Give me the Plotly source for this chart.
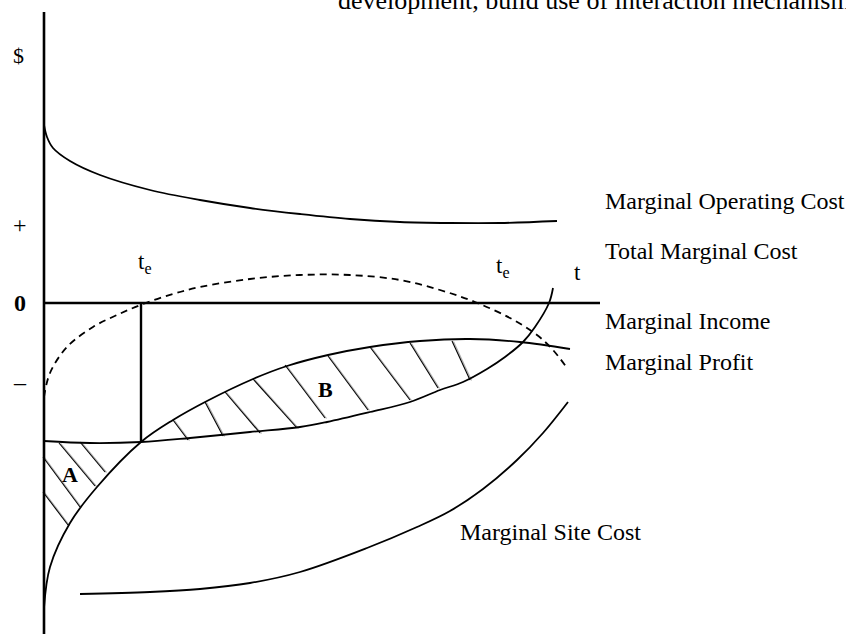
import plotly.graph_objects as go

W, H = 846, 634

# Conceptual curves (x, y in picture units, y downward)
op_cost_x = [44, 47, 53, 70, 100, 150, 200, 250, 300, 350, 400, 450, 500, 557]
op_cost_y = [125, 137, 148, 161, 175, 190, 200, 208, 214, 219, 222, 223, 223, 221]

total_cost_x = [44, 50, 67, 93, 117, 143, 173, 200, 250, 300, 350, 400, 440, 475, 510, 537, 553, 567]
total_cost_y = [397, 373, 347, 327, 315, 304, 294, 287, 279, 275, 275, 280, 290, 302, 318, 335, 350, 368]

# concave curve (rises steeply from bottom, flattens)
income_x = [44, 50, 70, 97, 141, 173, 207, 253, 287, 328, 370, 420, 470, 520, 570]
income_y = [608, 567, 523, 487, 442, 420, 401, 379, 366, 355, 347, 341, 339, 342, 349]

# convex curve (flat, then rising steeply)
mcost_x = [44, 90, 141, 190, 250, 300, 327, 370, 410, 440, 463, 487, 505, 523, 535, 549, 553]
mcost_y = [441, 443, 442, 438, 432, 427, 422, 412, 402, 390, 382, 369, 357, 342, 327, 303, 288]

site_x = [80, 150, 200, 250, 300, 367, 417, 450, 483, 517, 543, 568]
site_y = [594, 592, 589, 583, 572, 548, 527, 511, 489, 460, 433, 402]

# hatch segments (start / end)
hatch_x0 = [59, 80, 43, 43, 173, 205, 225, 253, 285, 328, 370, 410, 452]
hatch_y0 = [443, 442, 457, 492, 420, 402, 392, 379, 365, 356, 347, 343, 341]
hatch_x1 = [95, 105, 80, 68, 188, 223, 260, 297, 325, 368, 410, 438, 470]
hatch_y1 = [486, 472, 507, 525, 440, 436, 433, 428, 418, 410, 400, 388, 380]

axis_x = [44, 44]
axis_y = [12, 634]
zero_x = [44, 600]
zero_y = [303, 303]
te_line_x = [141, 141]
te_line_y = [303, 442]

fig = go.Figure()

def line(x, y, width=1.8, dash=None, color="black", shape="spline"):
    fig.add_trace(go.Scatter(x=x, y=y, mode="lines",
                             line=dict(color=color, width=width, dash=dash, shape=shape,
                                       smoothing=1.0 if shape == "spline" else None),
                             hoverinfo="skip", showlegend=False))

# hatches: grey shadow then black line
for x0, y0, x1, y1 in zip(hatch_x0, hatch_y0, hatch_x1, hatch_y1):
    line([x0 + 1.5, x1 + 1.5], [y0 + 0.5, y1 + 0.5], width=1.2, color="#b0b0b0", shape="linear")
    line([x0, x1], [y0, y1], width=1.1, color="black", shape="linear")

line(op_cost_x, op_cost_y)
line(total_cost_x, total_cost_y, width=1.8, dash="7px,5px")
line(income_x, income_y)
line(mcost_x, mcost_y)
line(site_x, site_y)
line(axis_x, axis_y, width=2.6, shape="linear")
line(zero_x, zero_y, width=2.6, shape="linear")
line(te_line_x, te_line_y, width=2.4, shape="linear")

font = dict(family="Liberation Serif, Times New Roman, serif", size=24, color="black")

def txt(x, y, s, xanchor="left", size=24, bold=False):
    f = dict(font)
    f["size"] = size
    fig.add_annotation(x=x, y=y, text=f"<b>{s}</b>" if bold else s, showarrow=False,
                       xanchor=xanchor, yanchor="middle", font=f, xref="x", yref="y")

txt(336, 0.5, "development, build use of interaction mechanisms", size=26)
txt(18, 55, "$", xanchor="center", size=22)
txt(20, 225, "+", xanchor="center", size=24)
txt(20, 303, "0", xanchor="center", size=24, bold=True)
txt(20, 382, "–", xanchor="center", size=24)
txt(145, 263, "t<sub>e</sub>", xanchor="center", size=23)
txt(503, 267, "t<sub>e</sub>", xanchor="center", size=23)
txt(577, 272, "t", xanchor="center", size=23)
txt(603, 201, "Marginal Operating Cost")
txt(603, 251, "Total Marginal Cost")
txt(603, 321, "Marginal Income")
txt(603, 362, "Marginal Profit")
txt(458, 532, "Marginal Site Cost")
txt(70, 474, "A", xanchor="center", size=22, bold=True)
txt(325, 389, "B", xanchor="center", size=22, bold=True)

fig.update_layout(width=W, height=H, margin=dict(l=0, r=0, t=0, b=0),
                  paper_bgcolor="white", plot_bgcolor="white",
                  xaxis=dict(range=[0, W], visible=False, fixedrange=True),
                  yaxis=dict(range=[H, 0], visible=False, fixedrange=True))

fig.write_html("out.html", config={"displayModeBar": False},
               post_script="document.body.style.margin='0';document.body.style.overflow='hidden';")
